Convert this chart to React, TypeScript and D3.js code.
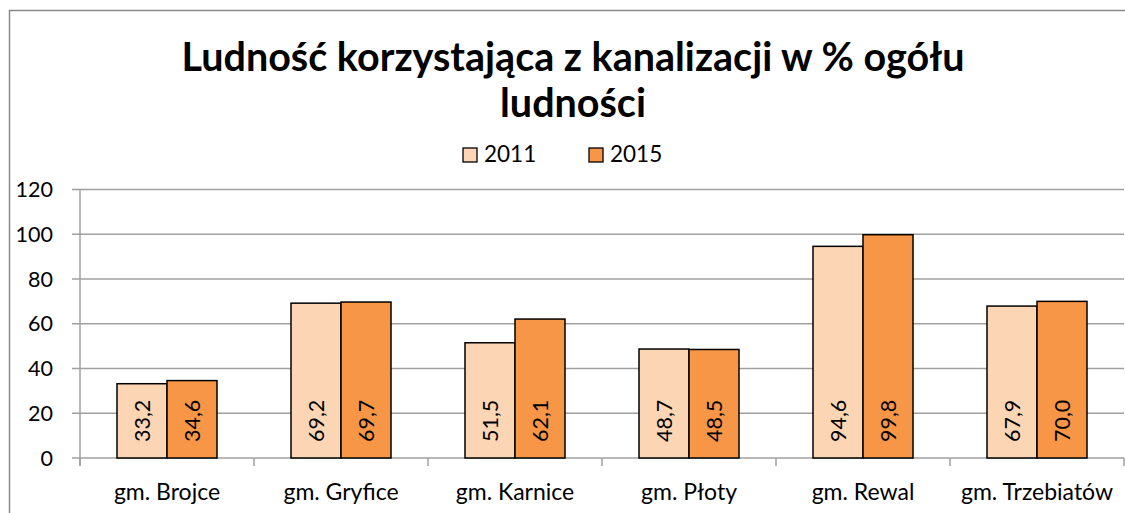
import React from "react";
import * as d3 from "d3";

const categories = ["gm. Brojce", "gm. Gryfice", "gm. Karnice", "gm. Płoty", "gm. Rewal", "gm. Trzebiatów"];
const seriesNames = ["2011", "2015"];
const values2011 = [33.2, 69.2, 51.5, 48.7, 94.6, 67.9];
const values2015 = [34.6, 69.7, 62.1, 48.5, 99.8, 70.0];
const yTicks = [0, 20, 40, 60, 80, 100, 120];
const colors = ["#FCD5B5", "#F79646"];
const titleLines = ["Ludność korzystająca z kanalizacji w % ogółu", "ludności"];

const W = 1125;
const H = 513;
const FONT = "Lato, 'Open Sans', sans-serif";

export default function App() {
  const plotLeft = 80;
  const plotRight = 1124;
  const y = d3.scaleLinear().domain([0, 120]).range([458, 189.5]);
  const x0 = d3.scaleBand<string>().domain(categories).range([plotLeft, plotRight]).paddingInner(0).paddingOuter(0);
  const x1 = d3.scaleBand<string>().domain(seriesNames).range([0, x0.bandwidth()]).paddingInner(0).paddingOuter(0.74);
  const allSeries = [values2011, values2015];
  const fmt = (v: number) => v.toFixed(1).replace(".", ",");
  const boundaries = categories.map((c) => x0(c) as number).concat([plotRight]);

  return (
    <svg width={W} height={H} style={{ display: "block", position: "absolute", left: 0, top: 0 }} fontFamily={FONT}>
      <rect x={0} y={0} width={W} height={H} fill="#fff" />
      <rect x={9.5} y={10.5} width={1128} height={520} fill="none" stroke="#888" strokeWidth={1.5} />
      {titleLines.map((t, i) => (
        <text key={i} x={573} y={71 + i * 46} textAnchor="middle" fontWeight="bold" fontSize={39.5} fill="#000">
          {t}
        </text>
      ))}
      {/* legend */}
      {seriesNames.map((s, i) => (
        <g key={s} transform={`translate(${463 + i * 126},148)`}>
          <rect x={0} y={0} width={14} height={14} fill={colors[i]} stroke="#000" strokeWidth={1.3} />
          <text x={21} y={14} fontSize={22.5} fill="#000">{s}</text>
        </g>
      ))}
      {/* gridlines */}
      {yTicks.map((t) => (
        <g key={t}>
          <line x1={72} x2={plotRight} y1={y(t)} y2={y(t)} stroke="#a0a0a0" strokeWidth={1.5} />
          <text x={53} y={y(t) + 7.5} textAnchor="end" fontSize={21.5} fill="#000">{t}</text>
        </g>
      ))}
      <line x1={plotLeft} x2={plotLeft} y1={y(120)} y2={466} stroke="#a0a0a0" strokeWidth={1.5} />
      {boundaries.map((b, i) => (
        <line key={i} x1={b} x2={b} y1={y(0)} y2={466} stroke="#a0a0a0" strokeWidth={1.5} />
      ))}
      {/* bars */}
      {categories.map((c, ci) => (
        <g key={c} transform={`translate(${x0(c)},0)`}>
          {seriesNames.map((s, si) => {
            const v = allSeries[si][ci];
            const bx = x1(s) as number;
            const bw = x1.bandwidth();
            return (
              <g key={s}>
                <rect x={bx} y={y(v)} width={bw} height={y(0) - y(v)} fill={colors[si]} stroke="#000" strokeWidth={1.5} />
                <text
                  transform={`translate(${bx + bw / 2 + 7.5},${y(0) - 16}) rotate(-90)`}
                  textAnchor="start"
                  fontSize={21.5}
                  fill="#000"
                >
                  {fmt(v)}
                </text>
              </g>
            );
          })}
          <text x={x0.bandwidth() / 2} y={500} textAnchor="middle" fontSize={23} fill="#000">{c}</text>
        </g>
      ))}
    </svg>
  );
}
